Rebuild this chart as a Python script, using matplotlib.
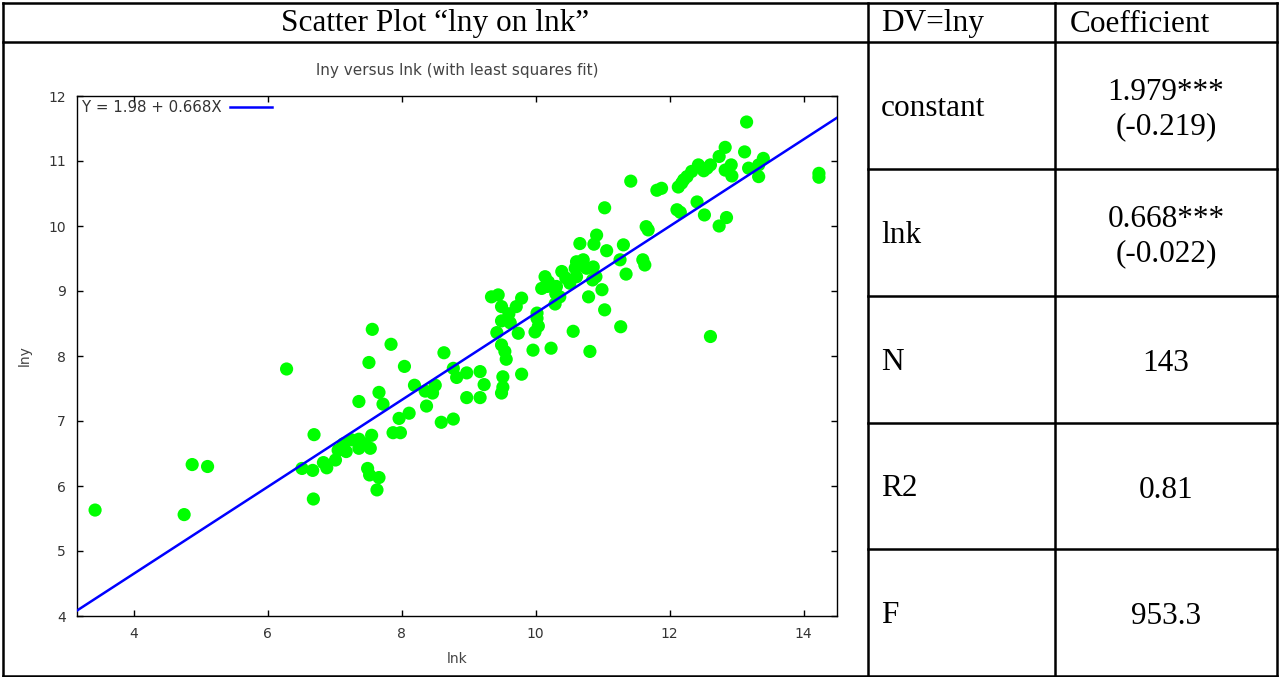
import matplotlib
matplotlib.use("Agg")
import matplotlib.pyplot as plt
from matplotlib.lines import Line2D

# scatter data
lnk = [3.42, 4.75, 4.87, 5.10, 6.28, 6.69, 6.51, 6.67, 6.68, 6.83,
       6.88, 7.01, 7.13, 7.17, 7.25, 7.36, 7.36, 7.53, 7.55, 7.49,
       7.52, 7.66, 7.63, 7.36, 7.51, 7.56, 7.84, 8.04, 7.66, 7.72,
       7.87, 7.98, 7.96, 8.11, 8.19, 8.37, 8.35, 8.46, 8.50, 8.59,
       8.77, 8.63, 8.77, 8.82, 8.97, 8.97, 9.17, 9.23, 9.17, 9.51,
       9.51, 9.49, 9.79, 9.56, 9.54, 9.49, 9.96, 10.23, 10.81, 10.56,
       11.27, 12.61, 11.03, 9.42, 9.49, 9.62, 9.74, 9.99, 10.04, 10.02,
       9.49, 9.71, 10.29, 9.34, 9.44, 9.79, 10.02, 10.14, 10.17, 10.09,
       10.31, 10.51, 10.61, 10.99, 10.79, 10.36, 10.39, 10.61, 10.71, 10.59,
       10.76, 10.86, 10.90, 10.66, 10.87, 10.91, 11.06, 11.31, 11.26, 11.35,
       11.60, 11.63, 11.65, 11.68, 11.03, 11.42, 11.81, 11.88, 12.11, 12.16,
       12.41, 12.52, 12.85, 12.74, 12.13, 12.18, 12.21, 12.26, 12.33, 12.43,
       12.51, 12.56, 12.61, 12.74, 12.83, 13.12, 13.15, 12.83, 12.92, 12.93,
       13.18, 13.33, 13.40, 13.33, 14.23, 14.23, 10.30, 10.19, 10.85, 7.05,
       7.45, 10.45, 9.60]
lny = [5.63, 5.56, 6.33, 6.30, 7.80, 6.79, 6.27, 6.24, 5.80, 6.36,
       6.28, 6.40, 6.65, 6.53, 6.71, 6.72, 6.58, 6.58, 6.78, 6.27,
       6.17, 6.13, 5.94, 7.30, 7.90, 8.41, 8.18, 7.84, 7.44, 7.26,
       6.82, 6.82, 7.04, 7.12, 7.55, 7.23, 7.46, 7.43, 7.55, 6.98,
       7.03, 8.05, 7.81, 7.67, 7.74, 7.36, 7.76, 7.56, 7.36, 7.68,
       7.52, 7.43, 7.72, 7.95, 8.07, 8.17, 8.09, 8.12, 8.07, 8.38,
       8.45, 8.30, 8.71, 8.36, 8.54, 8.51, 8.35, 8.37, 8.46, 8.58,
       8.76, 8.76, 8.80, 8.91, 8.94, 8.89, 8.66, 9.22, 9.07, 9.04,
       9.07, 9.12, 9.22, 9.02, 8.91, 8.91, 9.30, 9.45, 9.48, 9.35,
       9.35, 9.37, 9.22, 9.73, 9.72, 9.86, 9.62, 9.71, 9.48, 9.26,
       9.48, 9.40, 9.99, 9.94, 10.28, 10.69, 10.55, 10.58, 10.25, 10.21,
       10.37, 10.17, 10.13, 10.00, 10.60, 10.66, 10.71, 10.76, 10.84, 10.94,
       10.85, 10.89, 10.94, 11.07, 11.21, 11.14, 11.60, 10.86, 10.94, 10.77,
       10.89, 10.94, 11.04, 10.76, 10.81, 10.75, 8.96, 9.14, 9.17, 6.55,
       6.65, 9.20, 8.65]

intercept = 1.98
slope = 0.668
x_range = [3.15, 14.5]
y_range = [4, 12]

header = ["Scatter Plot \u201clny on lnk\u201d", "DV=lny", "Coefficient"]
row_names = ["constant", "lnk", "N", "R2", "F"]
row_values = ["1.979***\n(-0.219)", "0.668***\n(-0.022)", "143", "0.81", "953.3"]

W, H = 1279, 677
fig = plt.figure(figsize=(W / 100, H / 100), dpi=100)


def fx(px):
    return px / W


def fy(py):
    return 1 - py / H


# plot inside the left cell
ax = fig.add_axes([fx(77), fy(616), fx(837) - fx(77), fy(96) - fy(616)])
ax.scatter(lnk, lny, s=90, color="#00ff00", edgecolors="none", zorder=2)
fit_y = [intercept + slope * x for x in x_range]
ax.plot(x_range, fit_y, color="#0000ff", lw=1.8, zorder=3,
        label=f"Y = {intercept} + {slope}X")
ax.set_xlim(x_range)
ax.set_ylim(y_range)
ax.set_xticks([4, 6, 8, 10, 12, 14])
ax.set_yticks(range(4, 13))
ax.tick_params(direction="in", top=True, right=True, length=4, width=1,
               labelsize=10, labelcolor="#333333", pad=8)
for sp in ax.spines.values():
    sp.set_linewidth(1.0)
ax.set_title("lny versus lnk (with least squares fit)", fontsize=11,
             color="#444444", pad=15)
ax.set_xlabel("lnk", fontsize=10, color="#444444", labelpad=8)
ax.set_ylabel("lny", fontsize=10, color="#444444", labelpad=12)
leg = ax.legend(loc="upper left", frameon=False, markerfirst=False,
                handlelength=2.8, handletextpad=0.6, borderaxespad=0.0,
                borderpad=0.3, fontsize=10.8)
for t in leg.get_texts():
    t.set_color("#333333")

# table grid
lw = 1.8
rows = [42, 169, 296, 423, 549, 676]
lines = [
    ((3, 1277), (3, 3)),
    ((3, 1277), (42, 42)),
    ((3, 1277), (676, 676)),
    ((3, 3), (3, 676)),
    ((868, 868), (3, 676)),
    ((1055, 1055), (3, 676)),
    ((1277, 1277), (3, 676)),
]
for r in rows[1:-1]:
    lines.append(((868, 1277), (r, r)))
for (x0, x1), (y0, y1) in lines:
    fig.add_artist(Line2D([fx(x0), fx(x1)], [fy(y0), fy(y1)],
                          color="black", lw=lw, solid_capstyle="projecting"))

serif = "Liberation Serif"
fs = 22.5
fig.text(fx(435), fy(24), header[0], ha="center", va="center",
         family=serif, fontsize=fs)
fig.text(fx(881), fy(24), header[1], ha="left", va="center",
         family=serif, fontsize=fs)
fig.text(fx(1070), fy(24), header[2], ha="left", va="center",
         family=serif, fontsize=fs)

for i, (name, val) in enumerate(zip(row_names, row_values)):
    yc = (rows[i] + rows[i + 1]) / 2
    fig.text(fx(881), fy(yc + 3), name, ha="left", va="center",
             family=serif, fontsize=fs)
    fig.text(fx(1166), fy(yc + 4), val, ha="center", va="center",
             family=serif, fontsize=fs, linespacing=1.22)

fig.savefig("out.png", dpi=100)
